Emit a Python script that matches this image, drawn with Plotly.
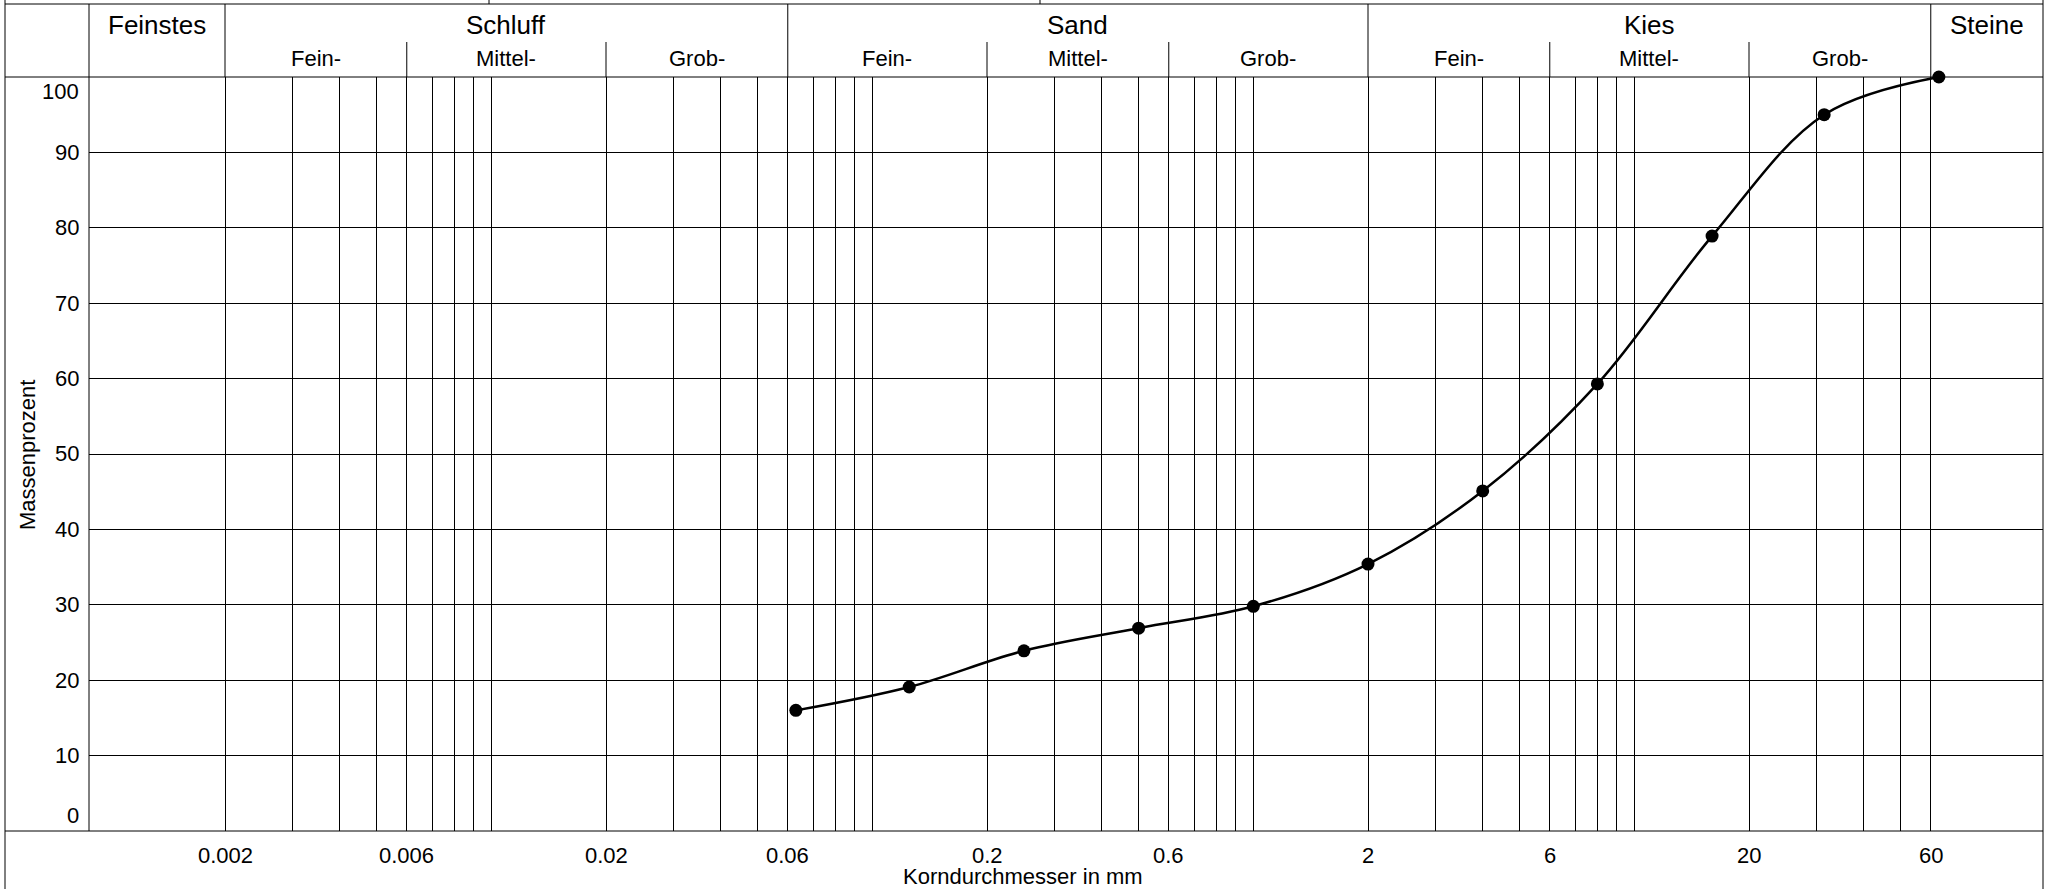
import numpy as np
import plotly.graph_objects as go

# sieve analysis data
korn_mm = [0.063, 0.125, 0.25, 0.5, 1, 2, 4, 8, 16, 31.5, 63]
durchgang = [16.0, 19.1, 23.9, 26.9, 29.8, 35.4, 45.1, 59.3, 78.9, 95.0, 100.0]

# grid / tick setup
grid_x = [0.002, 0.003, 0.004, 0.005, 0.006, 0.007, 0.008, 0.009, 0.01,
          0.02, 0.03, 0.04, 0.05, 0.06, 0.07, 0.08, 0.09, 0.1,
          0.2, 0.3, 0.4, 0.5, 0.6, 0.7, 0.8, 0.9, 1,
          2, 3, 4, 5, 6, 7, 8, 9, 10,
          20, 30, 40, 50, 60]
x_labels = [0.002, 0.006, 0.02, 0.06, 0.2, 0.6, 2, 6, 20, 60]
y_labels = [0, 10, 20, 30, 40, 50, 60, 70, 80, 90, 100]

# soil classes (DIN 4022)
haupt_grenzen = [0.002, 0.06, 2, 60]
haupt_namen = ["Feinstes", "Schluff", "Sand", "Kies", "Steine"]
unter_grenzen = [0.006, 0.02, 0.2, 0.6, 6, 20]
unter_namen = ["Fein-", "Mittel-", "Grob-"]

W, H = 2046, 889
FONT = "Liberation Sans, Arial, Helvetica, sans-serif"
x_lo, x_hi = -3.05593, 2.07268
plot_l, plot_r, plot_t, plot_b = 89, 2043, 77, 831
head_t, head_m = 4, 42


def px(v):
    return v / W


def py(v):
    return (H - v) / H


fig = go.Figure()
fig.add_trace(go.Scatter(x=korn_mm, y=durchgang, mode="lines+markers",
                         line=dict(color="black", width=2.5, shape="spline", smoothing=1.0),
                         marker=dict(color="black", size=13),
                         showlegend=False, cliponaxis=False))

shapes = []
line = dict(color="black", width=1)
# outer frame and horizontal borders
for yy in [head_t, plot_t, plot_b]:
    shapes.append(dict(type="line", xref="paper", yref="paper", x0=px(5), x1=px(plot_r),
                       y0=py(yy), y1=py(yy), line=line))
shapes.append(dict(type="line", xref="paper", yref="paper", x0=px(5), x1=px(5),
                   y0=py(0), y1=py(H), line=line))
shapes.append(dict(type="line", xref="paper", yref="paper", x0=px(plot_r), x1=px(plot_r),
                   y0=py(0), y1=py(H), line=line))
shapes.append(dict(type="line", xref="paper", yref="paper", x0=px(plot_l), x1=px(plot_l),
                   y0=py(head_t), y1=py(plot_b), line=line))
for xx in [489, 1040]:
    shapes.append(dict(type="line", xref="paper", yref="paper", x0=px(xx), x1=px(xx),
                       y0=py(0), y1=py(head_t), line=line))
# header dividers
for g in haupt_grenzen:
    shapes.append(dict(type="line", xref="x", yref="paper", x0=g, x1=g,
                       y0=py(plot_t), y1=py(head_t), line=line))
for g in unter_grenzen:
    shapes.append(dict(type="line", xref="x", yref="paper", x0=g, x1=g,
                       y0=py(plot_t), y1=py(head_m), line=line))

annotations = []
txt = dict(family=FONT, size=22, color="black")
# main class labels
bounds = [10 ** x_lo] + haupt_grenzen + [10 ** x_hi]
for i, name in enumerate(haupt_namen):
    mid = (np.log10(bounds[i]) + np.log10(bounds[i + 1])) / 2
    annotations.append(dict(x=mid, y=py(25), xref="x", yref="paper", text=name,
                            showarrow=False, font=dict(family=FONT, size=26, color="black"),
                            xanchor="center", yanchor="middle"))
# sub class labels
for j in range(3):
    lo = haupt_grenzen[j]
    hi = haupt_grenzen[j + 1]
    edges = [lo, unter_grenzen[2 * j], unter_grenzen[2 * j + 1], hi]
    for k, name in enumerate(unter_namen):
        mid = (np.log10(edges[k]) + np.log10(edges[k + 1])) / 2
        annotations.append(dict(x=mid, y=py(58), xref="x", yref="paper", text=name,
                                showarrow=False, font=txt, xanchor="center", yanchor="middle"))
# x tick labels
for v in x_labels:
    annotations.append(dict(x=np.log10(v), y=py(855), xref="x", yref="paper", text=f"{v:g}",
                            showarrow=False, font=txt, xanchor="center", yanchor="middle"))
# y tick labels
for v in y_labels:
    shift = -15 if v == 100 else (16 if v == 0 else 0)
    annotations.append(dict(x=px(81), y=v, xref="paper", yref="y", text=str(v),
                            showarrow=False, font=txt, xanchor="right", yanchor="middle",
                            yshift=shift))
# axis titles
annotations.append(dict(x=px(1023), y=py(876), xref="paper", yref="paper",
                        text="Korndurchmesser in mm", showarrow=False, font=txt,
                        xanchor="center", yanchor="middle"))
annotations.append(dict(x=px(27), y=py(455), xref="paper", yref="paper",
                        text="Massenprozent", showarrow=False, font=txt, textangle=-90,
                        xanchor="center", yanchor="middle"))

fig.update_layout(
    width=W, height=H,
    margin=dict(l=0, r=0, t=0, b=0),
    paper_bgcolor="white", plot_bgcolor="white",
    shapes=shapes, annotations=annotations,
    xaxis=dict(type="log", range=[x_lo, x_hi], domain=[px(plot_l), px(plot_r)],
               tickvals=grid_x, showticklabels=False, ticks="",
               showgrid=True, gridcolor="black", gridwidth=1,
               showline=False, zeroline=False),
    yaxis=dict(range=[0, 100], domain=[py(plot_b), py(plot_t)],
               tickvals=y_labels[1:-1], showticklabels=False, ticks="",
               showgrid=True, gridcolor="black", gridwidth=1,
               showline=False, zeroline=False),
)

# page has a default 8px body margin; drop it so the figure sits at the window corner
fig.write_html("out.html", config={"displayModeBar": False},
               post_script="document.body.style.margin='0px';")
